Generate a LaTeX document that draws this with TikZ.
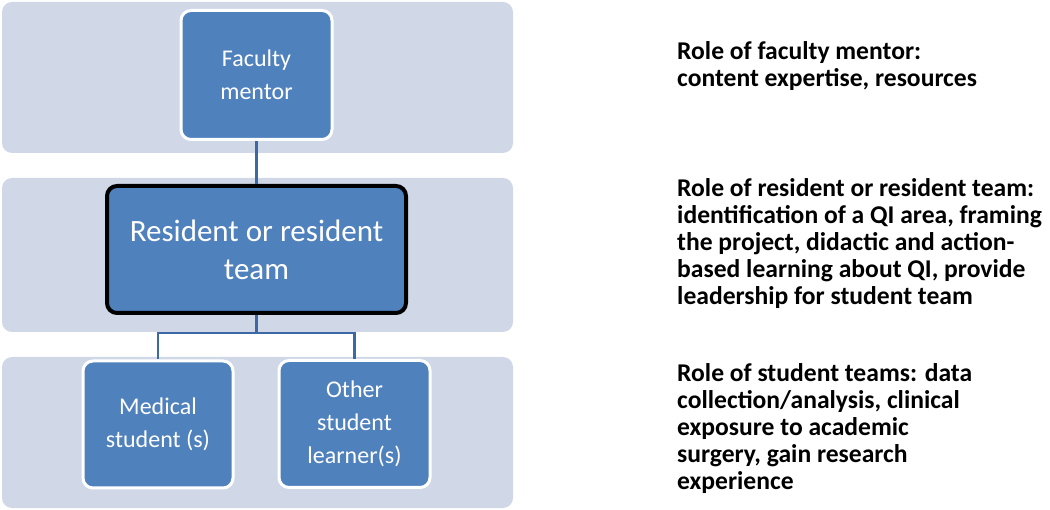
\documentclass[tikz,border=0pt]{standalone}
\usepackage{fontspec}
\setmainfont{Carlito}
\definecolor{bandfill}{HTML}{D0D8E8}
\definecolor{boxfill}{HTML}{4F81BD}
\definecolor{linecol}{HTML}{3A69A5}
\begin{document}
\begin{tikzpicture}[x=1pt,y=-1pt,
  band/.style={fill=bandfill, draw=none, rounded corners=10pt, inner sep=0pt},
  bluebox/.style={fill=boxfill, draw=white, line width=3pt, rounded corners=10pt, inner sep=0pt, align=center, text=white},
  conn/.style={draw=linecol, line width=2.2pt},
  role/.style={anchor=north west, inner sep=0pt, align=left, font=\fontsize{25.6}{27}\selectfont\bfseries}
]
\useasboundingbox (0,0) rectangle (1050,510);
\node[band, minimum width=511pt, minimum height=151pt] (b1) at (257.5,77.5) {};
\node[band, minimum width=511pt, minimum height=154pt] (b2) at (257.5,255) {};
\node[band, minimum width=511pt, minimum height=151pt] (b3) at (257.5,432.5) {};

\node[bluebox, minimum width=151pt, minimum height=129pt, font=\fontsize{24}{33}\selectfont] (fac) at (256.5,75) {Faculty\\mentor};
\node[bluebox, draw=black, line width=4pt, minimum width=299pt, minimum height=127pt, font=\fontsize{31}{38}\selectfont] (res) at (256.5,249.5) {Resident or resident\\team};
\node[bluebox, minimum width=150pt, minimum height=127pt, font=\fontsize{24}{33}\selectfont] (med) at (158,424.5) {Medical\\student (s)};
\node[bluebox, minimum width=151pt, minimum height=127pt, font=\fontsize{24}{33}\selectfont] (oth) at (354.5,424) {Other\\student\\learner(s)};

\coordinate (bar) at (256.5,333);
\draw[conn] (fac.south) -- (res.north);
\draw[conn] (res.south) -- (bar);
\draw[conn] (med.north) |- (bar) -| (oth.north);

\node[role] (r1) at (677,41) {Role of faculty mentor:\\content expertise, resources};
\node[role] (r2) at (677,178) {Role of resident or resident team:\\identification of a QI area, framing\\the project, didactic and action-\\based learning about QI, provide\\leadership for student team};
\node[role] (r3) at (677,363) {Role of student teams: data\\collection/analysis, clinical\\exposure to academic\\surgery, gain research\\experience};
\end{tikzpicture}
\end{document}
